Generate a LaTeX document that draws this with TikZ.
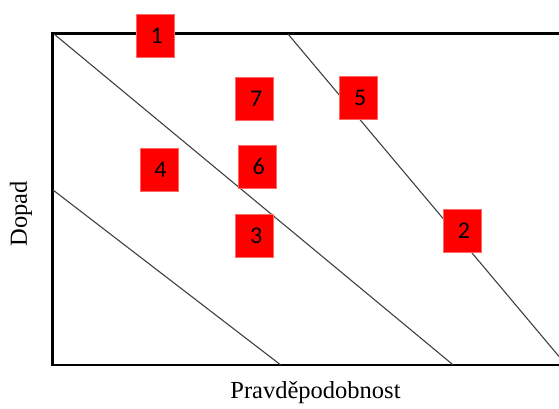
\documentclass[tikz,border=0pt]{standalone}
\usepackage{fontspec}
\setmainfont{Liberation Serif}
\newfontfamily\numfont{Carlito}
\begin{document}
\begin{tikzpicture}[x=1pt,y=-1pt,
  riskbox/.style={fill=red,draw=red!60!white,line width=0.6pt,minimum width=38pt,minimum height=43pt,inner sep=0pt,font=\numfont\fontsize{24}{24}\selectfont},
  band/.style={draw=black!75,line width=1.1pt},
  frame/.style={draw=black,line width=2.2pt},
  axislabel/.style={font=\fontsize{24.5}{26}\selectfont,inner sep=0pt}]
\useasboundingbox (0,0) rectangle (559,409);
\clip (0,0) rectangle (559,409);
% frame
\draw[frame] (575,33.5) -- (52.5,33.5) -- (52.5,364.8) -- (575,364.8);
% diagonal bands
\draw[band] (54,34) -- (453,364.8);
\draw[band] (288,34) -- (566,364.8);
\draw[band] (53,190) -- (280.5,364.8);
% risk boxes
\node[riskbox] (r1) at (155.3,35.7) {\kern3pt 1};
\node[riskbox] (r2) at (462.5,230.8) {\kern3pt 2};
\node[riskbox] (r3) at (254.7,235.8) {\kern3pt 3};
\node[riskbox] (r4) at (159,169.5) {\kern3pt 4};
\node[riskbox] (r5) at (358.7,97.5) {\kern3pt 5};
\node[riskbox] (r6) at (257.2,166.8) {\kern3pt 6};
\node[riskbox] (r7) at (254.7,98.8) {\kern3pt 7};
% axis labels
\node[axislabel,rotate=90] (dopad) at (21,214) {Dopad};
\node[axislabel] (prav) at (315.5,393) {Pravděpodobnost};
\end{tikzpicture}
\end{document}
